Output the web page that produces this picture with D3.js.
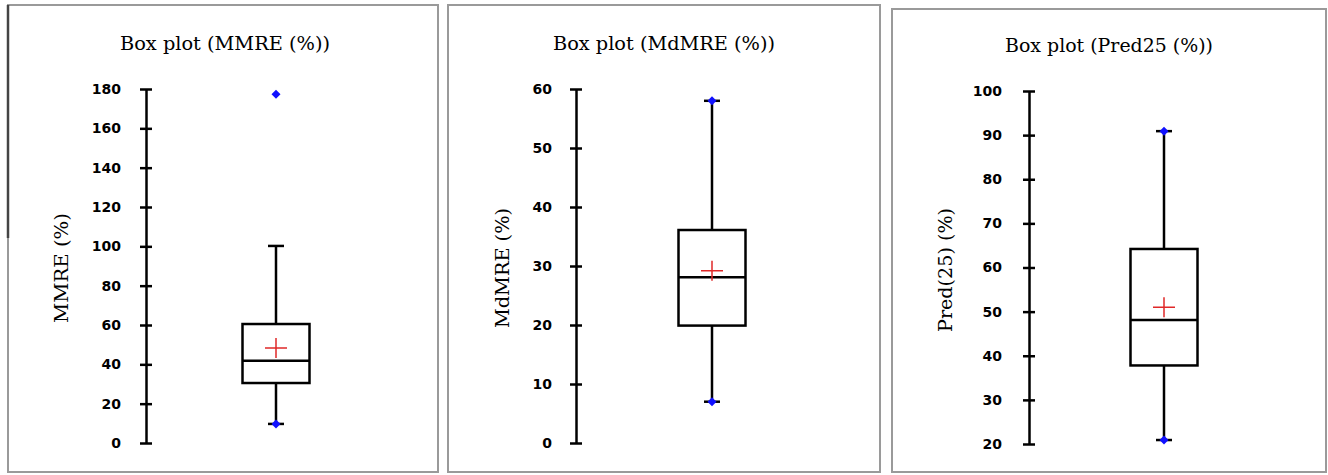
<!DOCTYPE html>
<html>
<head>
<meta charset="utf-8">
<script src="https://cdn.jsdelivr.net/npm/d3@7"></script>
<style>
  body { margin: 0; background: #fff; }
  svg { display: block; }
</style>
</head>
<body>
<script>
const titles = ["Box plot (MMRE (%))", "Box plot (MdMRE (%))", "Box plot (Pred25 (%))"];
const axisLabels = ["MMRE (%)", "MdMRE (%)", "Pred(25) (%)"];
const yDomains = [[0, 180], [0, 60], [20, 100]];
const tickValues = [
	[0, 20, 40, 60, 80, 100, 120, 140, 160, 180],
	[0, 10, 20, 30, 40, 50, 60],
	[20, 30, 40, 50, 60, 70, 80, 90, 100]
];
const mins = [9.7, 7.0, 20.9];
const q1s = [30.5, 19.9, 37.8];
const medians = [41.8, 28.1, 48.1];
const q3s = [60.5, 36.1, 64.2];
const upperWhiskers = [100.2, 58.0, 90.9];
const maxs = [177.3, 58.0, 90.9];
const means = [48.3, 29.2, 51.0];

const W = 1328, H = 475;
const svg = d3.select("body").append("svg")
	.attr("width", W)
	.attr("height", H);

// panel frames & layout (pixel geometry of each sub-chart)
const panels = [
	{ x0: 8, x1: 438, y0: 5, y1: 472, axisX: 146, boxX: 276, top: 89, bottom: 443, titleX: 225, titleY: 50, titleW: 210, labX: 68, labY: 268, labW: 110, labRight: 121 },
	{ x0: 448, x1: 880, y0: 5, y1: 472, axisX: 576, boxX: 712, top: 89, bottom: 443, titleX: 664, titleY: 50, titleW: 222, labX: 509, labY: 268, labW: 120, labRight: 552 },
	{ x0: 892, x1: 1326, y0: 9, y1: 472, axisX: 1029, boxX: 1164, top: 91, bottom: 444, titleX: 1109, titleY: 52, titleW: 208, labX: 952, labY: 270, labW: 124, labRight: 1002 }
];

const boxW = 67, capW = 16;

panels.forEach((p, i) => {
	svg.append("rect")
		.attr("x", p.x0)
		.attr("y", p.y0)
		.attr("width", p.x1 - p.x0)
		.attr("height", p.y1 - p.y0)
		.attr("fill", "none")
		.attr("stroke", "#9a9a9a")
		.attr("stroke-width", 2);

	const g = svg.append("g");

	const y = d3.scaleLinear()
		.domain(yDomains[i])
		.range([p.bottom, p.top]);

	g.append("text")
		.attr("x", p.titleX)
		.attr("y", p.titleY)
		.attr("text-anchor", "middle")
		.attr("font-family", "DejaVu Serif")
		.attr("font-size", "18px")
		.attr("textLength", p.titleW)
		.attr("lengthAdjust", "spacingAndGlyphs")
		.attr("fill", "#000")
		.text(titles[i]);

	g.append("text")
		.attr("transform", `translate(${p.labX},${p.labY}) rotate(-90)`)
		.attr("text-anchor", "middle")
		.attr("font-family", "DejaVu Serif")
		.attr("font-size", "18px")
		.attr("textLength", p.labW)
		.attr("lengthAdjust", "spacingAndGlyphs")
		.attr("fill", "#000")
		.text(axisLabels[i]);

	const axis = g.append("g")
		.attr("transform", `translate(${p.axisX},0)`)
		.call(d3.axisLeft(y).tickValues(tickValues[i]).tickSizeOuter(0).tickSizeInner(6));

	axis.select(".domain")
		.attr("stroke", "#000")
		.attr("stroke-width", 2.5);
	axis.selectAll(".tick line")
		.attr("x1", -6)
		.attr("x2", 6)
		.attr("stroke", "#000")
		.attr("stroke-width", 2.5);
	axis.selectAll(".tick text")
		.attr("x", p.labRight - p.axisX)
		.attr("font-family", "DejaVu Sans")
		.attr("font-weight", "bold")
		.attr("font-size", "14px")
		.attr("fill", "#000");

	const cx = p.boxX;

	// whiskers + caps
	[[q3s[i], upperWhiskers[i]], [q1s[i], mins[i]]].forEach(([a, b]) => {
		g.append("line")
			.attr("x1", cx).attr("x2", cx)
			.attr("y1", y(a)).attr("y2", y(b))
			.attr("stroke", "#000").attr("stroke-width", 2.5);
		g.append("line")
			.attr("x1", cx - capW / 2).attr("x2", cx + capW / 2)
			.attr("y1", y(b)).attr("y2", y(b))
			.attr("stroke", "#000").attr("stroke-width", 2.5);
	});

	// box
	g.append("rect")
		.attr("x", cx - boxW / 2)
		.attr("y", y(q3s[i]))
		.attr("width", boxW)
		.attr("height", y(q1s[i]) - y(q3s[i]))
		.attr("fill", "none")
		.attr("stroke", "#000")
		.attr("stroke-width", 2.5);

	g.append("line")
		.attr("x1", cx - boxW / 2).attr("x2", cx + boxW / 2)
		.attr("y1", y(medians[i])).attr("y2", y(medians[i]))
		.attr("stroke", "#000")
		.attr("stroke-width", 2.5);

	// mean cross
	const my = y(means[i]);
	g.append("path")
		.attr("d", `M${cx - 11},${my}H${cx + 11}M${cx},${my - 10}V${my + 10}`)
		.attr("stroke", "#e02828")
		.attr("stroke-width", 1.5)
		.attr("fill", "none");

	// min / max points
	g.selectAll(".pt")
		.data([mins[i], maxs[i]])
		.enter()
		.append("path")
		.attr("transform", d => `translate(${cx},${y(d)})`)
		.attr("d", "M0,-4.5L4.5,0L0,4.5L-4.5,0Z")
		.attr("fill", "#1010ff");
});

// darker edge at the top-left of the first frame
svg.append("line")
	.attr("x1", 8).attr("x2", 8)
	.attr("y1", 5).attr("y2", 238)
	.attr("stroke", "#444")
	.attr("stroke-width", 2.5);
</script>
</body>
</html>
